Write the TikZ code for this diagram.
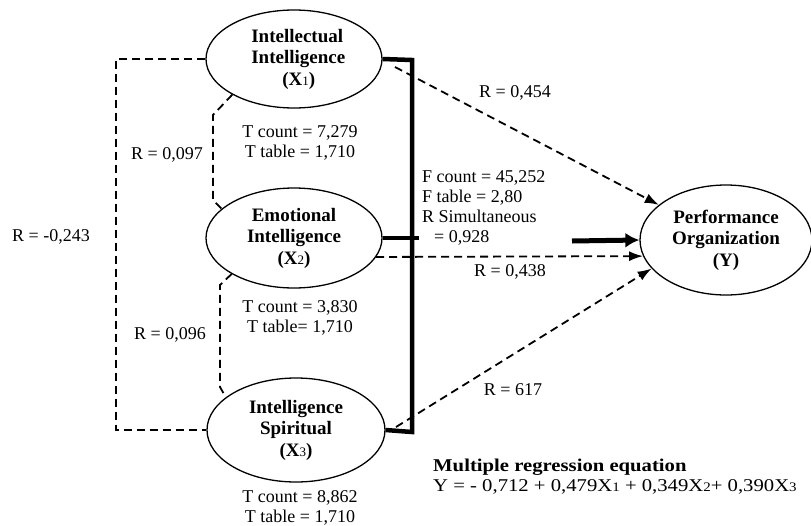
\documentclass[tikz,border=0pt]{standalone}
\usepackage{fontspec}
\usepackage{graphicx}
\setmainfont{Liberation Serif}
\usetikzlibrary{shapes.geometric,arrows.meta}
\newcommand{\sdig}[1]{{\fontsize{13}{13}\selectfont\mdseries #1}}
\begin{document}
\begin{tikzpicture}[x=1pt,y=-1pt,
  var/.style={ellipse,draw,line width=1.3pt,inner sep=0pt,align=center,
    font=\fontsize{19}{21.5}\selectfont\bfseries},
  lbl/.style={align=center,inner sep=0pt,font=\fontsize{18}{20}\selectfont},
  dsh/.style={dashed,dash pattern=on 8pt off 5pt,line width=1.8pt},
  dsharr/.style={dsh,-{Latex[length=14pt,width=10pt]}},
  brk/.style={line width=4.5pt},
  bigarr/.style={line width=5pt,-{Latex[length=14pt,width=15pt]}}]
\useasboundingbox (0,0) rectangle (811,525);

\node[var,minimum width=176pt,minimum height=98pt] (X1) at (294,59)
  {\raisebox{-3pt}{\parbox{3cm}{\centering Intellectual\\Intelligence\\ \ \ (X\sdig{1})}}};
\node[var,minimum width=176pt,minimum height=100pt] (X2) at (294,238)
  {Emotional\\Intelligence\\(X\sdig{2})};
\node[var,minimum width=178pt,minimum height=104pt] (X3) at (296,430)
  {Intelligence\\Spiritual\\(X\sdig{3})};
\node[var,minimum width=172pt,minimum height=110pt] (Y) at (726,240)
  {Performance\\Organization\\(Y)};

% left dashed box
\coordinate (L1) at (116,59);
\coordinate (L3) at (116,430);
\draw[dsh] (X1.west) -- (L1) -- (L3) -- (X3.west);

% inner dashed connectors
\coordinate (c1) at (213,115);
\coordinate (c2) at (213,200);
\coordinate (c3) at (220,285);
\coordinate (c4) at (220,387);
\draw[dsh] (X1.210) -- (c1) -- (c2) -- (X2.158);
\draw[dsh] (X2.210) -- (c3) -- (c4) -- (X3.155);

% bracket
\coordinate (bt) at (412,60);
\coordinate (bb) at (412,432);
\coordinate (b2) at (419,238);
\draw[brk] (X1.east) -- (bt) -- (bb) -- (X3.east);
\draw[brk] (X2.east) -- (b2);

% arrows to Y
\coordinate (s1) at (395,67);
\coordinate (s3) at (396,427);
\coordinate (fa) at (572,241);
\draw[dsharr] (s1) -- (Y);
\draw[dsharr] (X2.-13) -- (Y.191);
\draw[dsharr] (s3) -- (Y.201);
\draw[bigarr] (fa) -- (Y.west);

% labels
\node[lbl] (r454) at (515,93) {R = 0,454};
\node[lbl,anchor=west,align=left] (fst) at (422,208)
  {F count = 45,252\\F table = 2,80\\R Simultaneous\\\hspace*{12pt}= 0,928};
\node[lbl] (r438) at (510,272) {R = 0,438};
\node[lbl] (r617) at (513,390) {R = 617};
\node[lbl,anchor=west,align=left] (eq) at (433,477)
  {\scalebox{1.15}[1]{\textbf{Multiple regression equation}}\\
   \scalebox{1.15}[1]{Y = - 0,712 + 0,479X\sdig{1} + 0,349X\sdig{2}+ 0,390X\sdig{3}}};
\node[lbl] (t1) at (300,143) {T count = 7,279\\T table = 1,710};
\node[lbl] (t2) at (300,318) {T count = 3,830\\T table= 1,710};
\node[lbl] (t3) at (300,508) {T count = 8,862\\T table = 1,710};
\node[lbl] (r097) at (167,155) {R = 0,097};
\node[lbl] (r096) at (170,335) {R = 0,096};
\node[lbl] (r243) at (51,237) {R = -0,243};
\end{tikzpicture}
\end{document}
